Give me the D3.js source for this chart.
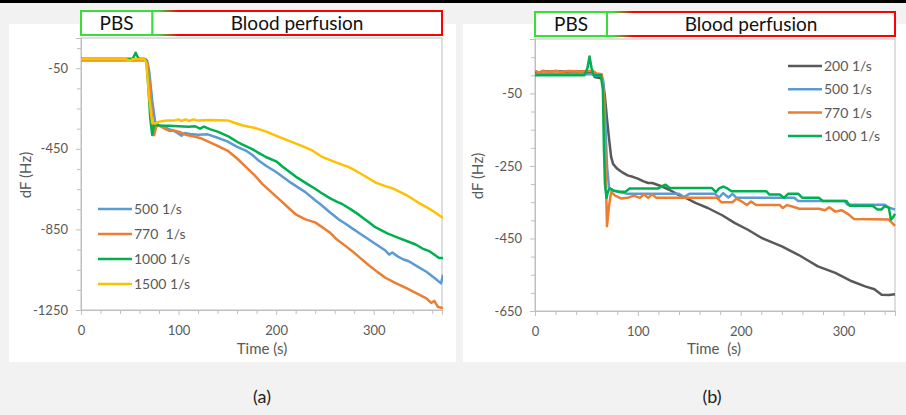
<!DOCTYPE html>
<html>
<head>
<meta charset="utf-8">
<script src="https://cdn.jsdelivr.net/npm/d3@7"></script>
<style>
  body { margin: 0; background: #f2f2f2; }
  text { font-family: Lato, "Liberation Sans", sans-serif; }
</style>
</head>
<body>
<div id="chart"></div>
<script>
// ---- panel (a): [time s, dF Hz]
const labelsA = ["500 1/s", "770  1/s", "1000 1/s", "1500 1/s"];
const a500 = [[0,-5],[20,-5],[40,-5],[60,-5],[66,-6],[68,-15],[70,-70],[73,-210],[76,-318],[80,-333],[85,-340],[90,-352],[95,-360],[100,-375],[103,-385],[106,-372],[112,-376],[120,-380],[130,-378],[140,-395],[150,-413],[160,-440],[170,-462],[176,-482],[182,-508],[190,-535],[200,-565],[207,-590],[215,-618],[222,-640],[230,-665],[240,-705],[246,-728],[255,-765],[264,-800],[270,-818],[278,-845],[285,-868],[295,-900],[305,-932],[312,-955],[316,-975],[319,-965],[325,-985],[330,-998],[336,-1008],[345,-1035],[354,-1060],[362,-1090],[369,-1118],[371,-1075]];
const a770 = [[0,-12],[20,-12],[40,-12],[60,-12],[66,-12],[68,-25],[71,-160],[73,-320],[75,-382],[77,-340],[80,-335],[85,-348],[90,-360],[96,-360],[102,-368],[108,-382],[115,-388],[122,-396],[130,-413],[140,-435],[151,-462],[160,-498],[169,-540],[178,-582],[186,-625],[195,-665],[203,-700],[212,-740],[220,-775],[230,-800],[240,-815],[246,-835],[255,-865],[261,-895],[270,-928],[278,-958],[287,-995],[295,-1028],[304,-1062],[312,-1090],[322,-1115],[333,-1140],[343,-1165],[354,-1192],[359,-1215],[362,-1205],[366,-1235],[371,-1240]];
const a1000 = [[0,-3],[20,-3],[40,-3],[50,-3],[53,-3],[56,27],[59,-3],[65,-3],[67,-10],[69,-140],[71,-300],[73,-382],[75,-330],[80,-334],[90,-336],[100,-338],[110,-340],[117,-338],[122,-350],[126,-340],[132,-352],[140,-365],[151,-388],[160,-415],[165,-428],[175,-450],[182,-470],[190,-492],[200,-512],[207,-540],[220,-588],[233,-628],[240,-648],[246,-668],[255,-695],[262,-712],[268,-725],[277,-752],[285,-778],[295,-815],[302,-840],[314,-870],[326,-893],[335,-910],[343,-925],[350,-945],[357,-958],[362,-975],[367,-992],[371,-992]];
const a1500 = [[0,-5],[46,-5],[50,-14],[53,-5],[65,-5],[67,-20],[70,-200],[73,-322],[76,-325],[80,-315],[88,-310],[95,-310],[100,-304],[103,-312],[107,-304],[111,-312],[115,-304],[120,-310],[131,-307],[140,-308],[151,-310],[158,-322],[165,-333],[172,-340],[179,-347],[190,-365],[199,-383],[210,-404],[223,-429],[237,-458],[246,-487],[254,-504],[264,-522],[274,-540],[282,-560],[289,-580],[296,-600],[302,-618],[312,-635],[319,-645],[333,-678],[346,-718],[355,-742],[361,-760],[371,-793]];

// ---- panel (b)
const labelsB = ["200 1/s", "500 1/s", "770 1/s", "1000 1/s"];
const b200 = [[0,10],[5,8],[8,12],[15,10],[20,12],[30,10],[40,11],[50,10],[56,8],[58,-5],[64,-8],[66,-15],[68,-60],[70,-120],[72,-175],[74,-225],[76,-245],[80,-258],[85,-268],[90,-276],[95,-280],[100,-285],[105,-292],[110,-297],[114,-297],[123,-306],[130,-315],[139,-329],[148,-340],[156,-352],[168,-366],[182,-386],[194,-407],[207,-426],[220,-448],[230,-460],[240,-472],[256,-495],[265,-510],[275,-527],[292,-545],[308,-568],[321,-582],[330,-590],[337,-605],[344,-606],[350,-604]];
const b500 = [[0,3],[20,3],[40,3],[55,3],[58,-1],[64,-1],[66,-10],[68,-100],[70,-250],[72,-310],[76,-318],[82,-322],[90,-327],[110,-327],[140,-327],[145,-336],[150,-327],[175,-327],[179,-337],[183,-325],[188,-337],[192,-327],[196,-338],[252,-338],[256,-347],[301,-347],[304,-357],[340,-357],[344,-365],[350,-370]];
const b770 = [[0,12],[4,8],[8,12],[14,9],[20,12],[26,9],[32,12],[40,11],[46,10],[50,12],[56,12],[60,5],[65,3],[67,-60],[69,-300],[70,-416],[72,-360],[74,-322],[78,-332],[84,-340],[90,-338],[96,-332],[102,-338],[106,-328],[110,-338],[114,-328],[118,-338],[177,-338],[181,-350],[192,-350],[196,-340],[201,-348],[206,-358],[210,-348],[215,-358],[238,-358],[241,-366],[245,-358],[250,-362],[257,-368],[276,-368],[282,-372],[286,-364],[292,-376],[298,-372],[304,-382],[310,-396],[344,-398],[350,-415]];
const b1000 = [[0,0],[20,0],[40,0],[48,0],[51,20],[53,52],[55,20],[57,0],[64,0],[66,-40],[67,-200],[68,-300],[69.5,-338],[71,-320],[73,-312],[76,-318],[82,-321],[88,-321],[92,-312],[120,-312],[124,-305],[127,-302],[131,-311],[172,-311],[176,-322],[179,-312],[183,-307],[187,-312],[191,-320],[225,-320],[228,-329],[238,-329],[242,-338],[246,-327],[256,-327],[260,-338],[276,-338],[280,-347],[303,-347],[306,-360],[328,-360],[333,-370],[337,-370],[340,-361],[344,-365],[346,-398],[348,-392],[350,-382]];

const xTicks = [0, 100, 200, 300];
const yTicksA = [-1250, -850, -450, -50];
const yTicksB = [-650, -450, -250, -50];
const panelNames = ["(a)", "(b)"];
const phaseNames = ["PBS", "Blood perfusion"];

const colors = { c200: "#595959", c500: "#5b9bd5", c770: "#ed7d31", c1000: "#00b050", c1500: "#ffc000" };

const svg = d3.select("#chart").append("svg")
  .attr("width", 906).attr("height", 415);

const defs = svg.append("defs");
const grad = defs.append("linearGradient").attr("id", "gr");
grad.append("stop").attr("offset", "0").attr("stop-color", "#36e036");
grad.append("stop").attr("offset", "0.02").attr("stop-color", "#36e036");
grad.append("stop").attr("offset", "0.09").attr("stop-color", "#ff0000");
grad.append("stop").attr("offset", "1").attr("stop-color", "#ff0000");

// slide background bits
svg.append("rect").attr("x", 0).attr("y", 0).attr("width", 906).attr("height", 3).attr("fill", "#000");
svg.append("rect").attr("x", 9).attr("y", 24).attr("width", 447).attr("height", 338).attr("fill", "#fff");
svg.append("rect").attr("x", 463).attr("y", 24).attr("width", 443).attr("height", 338).attr("fill", "#fff");

function panel(cfg) {
  const x = d3.scaleLinear().domain([0, cfg.xMax]).range([cfg.left, cfg.right]);
  const y = d3.scaleLinear().domain([cfg.yMin, 100]).range([cfg.bottom, cfg.top]);
  const g = svg.append("g");

  g.append("rect")
    .attr("x", cfg.left).attr("y", cfg.top)
    .attr("width", cfg.right - cfg.left).attr("height", cfg.bottom - cfg.top)
    .attr("fill", "none").attr("stroke", "#bfbfbf");

  // minor ticks
  const yMinor = d3.range(cfg.yMin, 101, cfg.yMinorStep).filter(v => !cfg.yTicks.includes(v));
  const xMinor = d3.range(20, cfg.xMax, 20).filter(v => !xTicks.includes(v));
  g.append("g").attr("transform", `translate(${cfg.left},0)`)
    .call(d3.axisLeft(y).tickValues(yMinor).tickSize(4).tickFormat(""));
  g.append("g").attr("transform", `translate(0,${cfg.bottom})`)
    .call(d3.axisBottom(x).tickValues(xMinor).tickSize(4).tickFormat(""));

  g.append("g").attr("transform", `translate(${cfg.left},0)`)
    .call(d3.axisLeft(y).tickValues(cfg.yTicks).tickSize(5).tickPadding(8).tickFormat(d => String(d)));
  g.append("g").attr("transform", `translate(0,${cfg.bottom})`)
    .call(d3.axisBottom(x).tickValues(xTicks).tickSize(5).tickPadding(11).tickFormat(d => String(d)));

  g.selectAll(".domain, .tick line").attr("stroke", "#bfbfbf");
  g.selectAll(".tick text").attr("fill", "#595959").style("font-size", "13px")
    .style("font-family", "Lato, sans-serif");

  // axis titles
  g.append("text")
    .attr("transform", `translate(${cfg.yTitleX},${(cfg.top + cfg.bottom) / 2 + 1}) rotate(-90)`)
    .attr("text-anchor", "middle").attr("dy", "0.35em")
    .attr("fill", "#595959").style("font-size", "15px")
    .text("dF (Hz)");
  g.append("text")
    .attr("x", cfg.xTitleX).attr("y", 354)
    .attr("text-anchor", "middle").attr("fill", "#595959")
    .style("font-size", "15px").style("white-space", "pre")
    .text(cfg.xTitle);

  // lines
  const clipId = "clip" + cfg.id;
  defs.append("clipPath").attr("id", clipId).append("rect")
    .attr("x", cfg.left).attr("y", cfg.top - 2)
    .attr("width", cfg.right - cfg.left + 1).attr("height", cfg.bottom - cfg.top + 2);
  const line = d3.line().x(d => x(d[0])).y(d => y(d[1]));
  g.append("g").attr("clip-path", `url(#${clipId})`)
    .selectAll("path").data(cfg.series).join("path")
    .attr("d", s => line(s.values))
    .attr("fill", "none").attr("stroke", s => s.color)
    .attr("stroke-width", 2.5).attr("stroke-linejoin", "round");

  // legend
  const lg = g.append("g").selectAll("g").data(cfg.series).join("g")
    .attr("transform", (s, i) => `translate(${cfg.legX},${cfg.legY + i * cfg.legStep})`);
  lg.append("line").attr("x1", 0).attr("x2", 34)
    .attr("stroke", s => s.color).attr("stroke-width", 2.5);
  lg.append("text").attr("x", 36).attr("dy", "0.35em")
    .attr("fill", "#595959").style("font-size", "14px").style("white-space", "pre")
    .text(s => s.name);

  // phase boxes
  const bx = x(0), mid = x(cfg.phaseEnd), ex = cfg.right;
  g.append("rect").attr("x", mid).attr("y", cfg.boxY)
    .attr("width", ex - mid).attr("height", 24)
    .attr("fill", "#fff").attr("stroke", "url(#gr)").attr("stroke-width", 2);
  g.append("rect").attr("x", bx).attr("y", cfg.boxY)
    .attr("width", mid - bx).attr("height", 24)
    .attr("fill", "#fff").attr("stroke", "#36e036").attr("stroke-width", 2);
  g.append("text").attr("x", (bx + mid) / 2).attr("y", cfg.boxY + 19)
    .attr("text-anchor", "middle").attr("fill", "#111").style("font-size", "19px")
    .text(phaseNames[0]);
  g.append("text").attr("x", (mid + ex) / 2).attr("y", cfg.boxY + 19)
    .attr("text-anchor", "middle").attr("fill", "#111").style("font-size", "19px")
    .text(phaseNames[1]);

  svg.append("text").attr("x", cfg.capX).attr("y", 403)
    .attr("text-anchor", "middle").attr("fill", "#222").style("font-size", "18px")
    .text(cfg.caption);
}

panel({
  id: "a", left: 81, right: 442, top: 38, bottom: 310,
  xMax: 370, yMin: -1250, yMinorStep: 100, yTicks: yTicksA,
  yTitleX: 26, xTitleX: 262, xTitle: "Time (s)",
  legX: 98, legY: 209, legStep: 25,
  phaseEnd: 73, boxY: 11, capX: 262, caption: panelNames[0],
  series: [
    { name: labelsA[0], values: a500, color: colors.c500 },
    { name: labelsA[1], values: a770, color: colors.c770 },
    { name: labelsA[2], values: a1000, color: colors.c1000 },
    { name: labelsA[3], values: a1500, color: colors.c1500 }
  ]
});

panel({
  id: "b", left: 535, right: 895, top: 39, bottom: 311,
  xMax: 350, yMin: -650, yMinorStep: 50, yTicks: yTicksB,
  yTitleX: 478, xTitleX: 714, xTitle: "Time  (s)",
  legX: 788, legY: 66, legStep: 23.3,
  phaseEnd: 70, boxY: 12, capX: 712, caption: panelNames[1],
  series: [
    { name: labelsB[0], values: b200, color: colors.c200 },
    { name: labelsB[1], values: b500, color: colors.c500 },
    { name: labelsB[2], values: b770, color: colors.c770 },
    { name: labelsB[3], values: b1000, color: colors.c1000 }
  ]
});
</script>
</body>
</html>
